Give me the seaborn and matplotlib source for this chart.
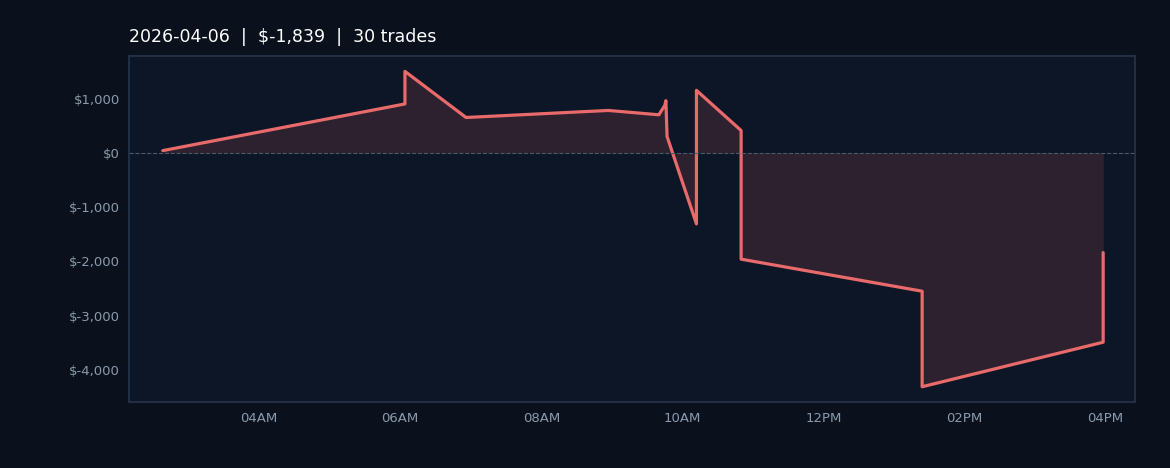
import matplotlib
matplotlib.use("Agg")
import matplotlib.pyplot as plt
import matplotlib.dates as mdates
import seaborn as sns
import pandas as pd

times = ["02:38","06:04","06:04","06:56","08:57","09:40","09:45","09:46","09:47",
         "10:12","10:12","10:50","10:50","13:24","13:24","15:58","15:58"]
pnl = [40, 900, 1500, 650, 780, 700, 870, 960, 300,
       -1310, 1150, 410, -1960, -2550, -4310, -3490, -1839]
yticks = [1000, 0, -1000, -2000, -3000, -4000]
title = "2026-04-06  |  $-1,839  |  30 trades"

df = pd.DataFrame({"t": pd.to_datetime(["2026-04-06 " + t for t in times]), "pnl": pnl})

sns.set_theme(style="dark")
plt.rcParams['font.family'] = ['DejaVu Sans']
fig = plt.figure(figsize=(11.7, 4.68), dpi=100, facecolor="#0a111d")
ax = fig.add_axes([0.110, 0.14, 0.860, 0.74])
ax.set_facecolor("#0d1627")
ax.fill_between(df["t"], df["pnl"], 0, color="#3a2533", alpha=0.75, linewidth=0)
sns.lineplot(data=df, x="t", y="pnl", ax=ax, color="#e86a6a", linewidth=2.3, sort=False, estimator=None)
ax.axhline(0, color="#4a5a6a", linestyle="--", linewidth=0.8)
ax.set_xlim(pd.Timestamp("2026-04-06 02:09"), pd.Timestamp("2026-04-06 16:25"))
ax.set_ylim(-4600, 1780)
ax.set_yticks(yticks)
ax.yaxis.set_major_formatter(matplotlib.ticker.FuncFormatter(lambda v, p: f"${int(v):,}"))
ax.xaxis.set_major_locator(mdates.HourLocator(byhour=range(4, 17, 2)))
ax.xaxis.set_major_formatter(mdates.DateFormatter("%I%p"))
ax.tick_params(colors="#8a9aac", labelsize=9.5, length=3)
ax.set_xlabel(""); ax.set_ylabel("")
for s in ax.spines.values():
    s.set_color("#25334a"); s.set_visible(True)
ax.set_title(title, loc="left", color="white", fontsize=12.5, pad=10)
fig.savefig("out.png", facecolor=fig.get_facecolor())
